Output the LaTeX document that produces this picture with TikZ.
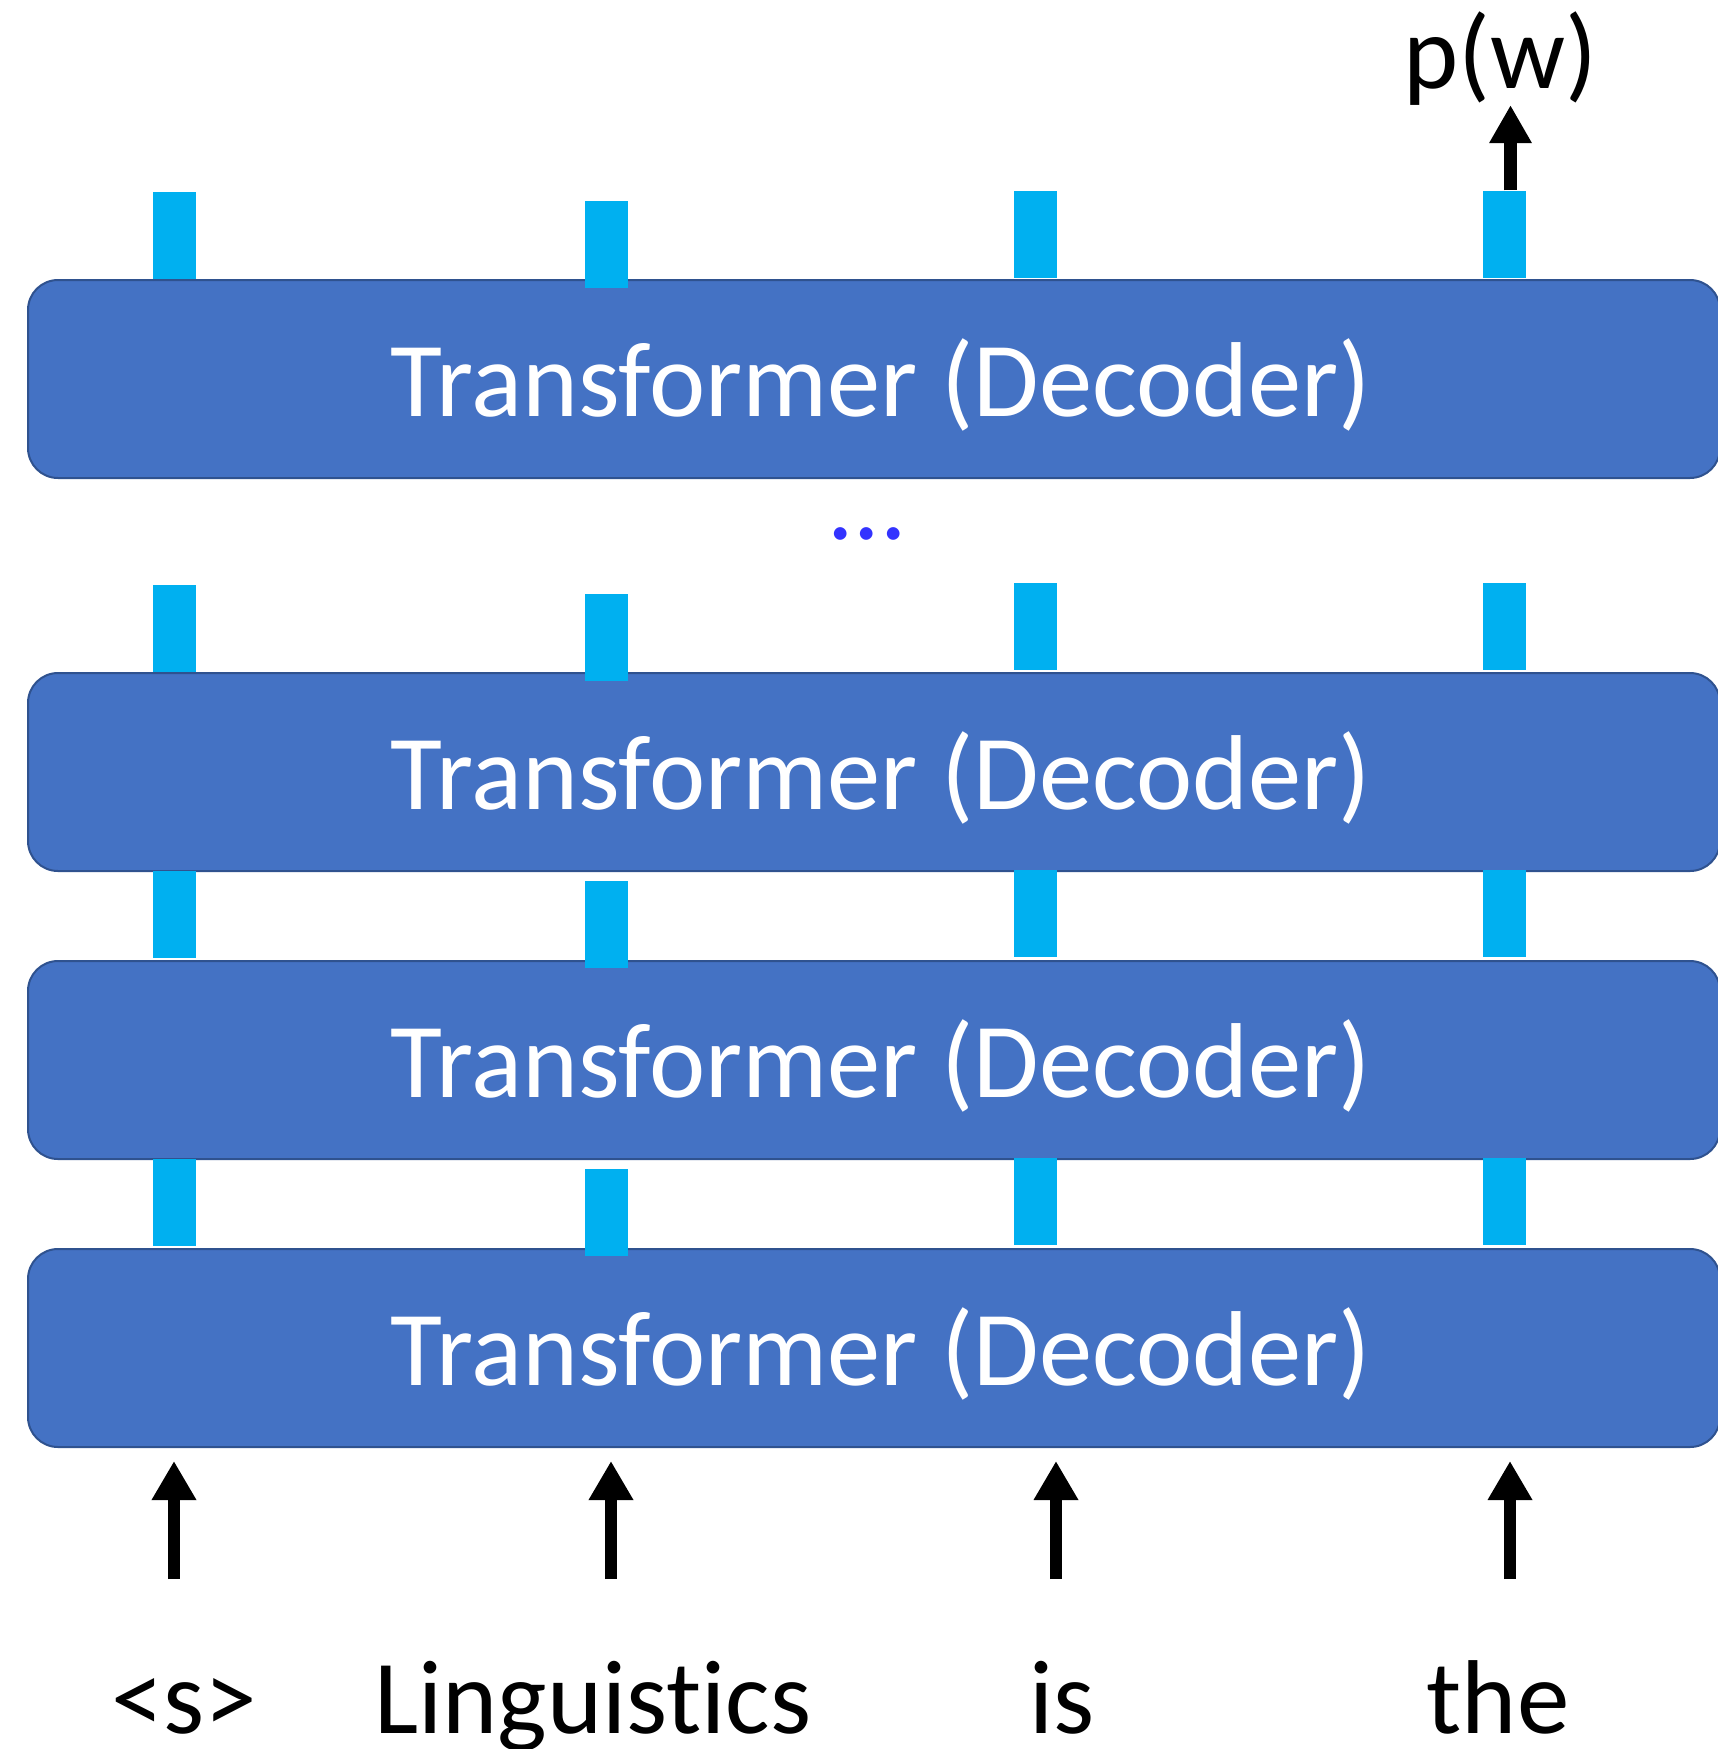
\documentclass[tikz,border=0pt]{standalone}
\usepackage{fontspec}
\setmainfont[Ligatures={NoCommon}]{Carlito}
\usetikzlibrary{arrows.meta,calc}
\definecolor{layerblue}{HTML}{4472C4}
\definecolor{layeredge}{HTML}{2F528F}
\definecolor{statecyan}{HTML}{00B0F0}
\definecolor{dotblue}{HTML}{3333FF}
\begin{document}
\begin{tikzpicture}[x=1pt,y=-1pt,
  layer/.style={draw=layeredge, line width=2pt, fill=layerblue, rounded corners=30pt,
    minimum width=1692pt, minimum height=198pt, inner sep=0pt},
  layertext/.style={text=white, font=\fontsize{106.5}{128}\selectfont, anchor=base, inner sep=0pt},
  hstate/.style={fill=statecyan, minimum width=43pt, minimum height=87pt, inner sep=0pt},
  word/.style={font=\fontsize{105}{126}\selectfont, anchor=base, inner sep=0pt},
  uparrow/.style={line width=12pt, -{Triangle[width=42pt,length=39pt]}}]
\useasboundingbox (0,0) rectangle (1718,1749);

% decoder layers
\foreach \n/\y in {1/379,2/772,3/1060,4/1348}{
  \node[layer] (b\n) at (874,\y) {};
  \node[layertext] (t\n) at ($(b\n.north)+(7,137)$) {Transformer (Decoder)};
}

% stacked layers elided
\node[word, text=dotblue] (dots) at (867,539) {...};

% hidden state vectors per position
\foreach \r/\ya/\yb/\yc in {A/235/244/234, B/628.5/637/626.5, C/914.5/924/913.5, D/1202/1212/1201.5}{
  \node[hstate] (h\r1) at (174.5,\ya) {};
  \node[hstate] (h\r2) at (606,\yb) {};
  \node[hstate] (h\r3) at (1035,\yc) {};
  \node[hstate] (h\r4) at (1504.5,\yc) {};
}

% output distribution
\node[word] (pw) at (1500,88) {p(w)};
\draw[uparrow, line width=13pt, -{Triangle[width=40pt,length=38pt]}]
  ([xshift=6pt]hA4.north) -- ([xshift=6pt]hA4.north |- pw.south);

% input tokens
\node[word] (w1) at (184,1733) {<s>};
\node[word] (w2) at (593,1733) {Linguistics};
\node[word] (w3) at (1062,1733) {is};
\node[word] (w4) at (1498,1733) {the};

\foreach \i/\x in {1/174,2/611,3/1056,4/1510}{
  \coordinate (in\i) at (\x,1579);
  \draw[uparrow, shorten >=13pt] (in\i) -- (in\i |- b4.south);
}
\end{tikzpicture}
\end{document}
